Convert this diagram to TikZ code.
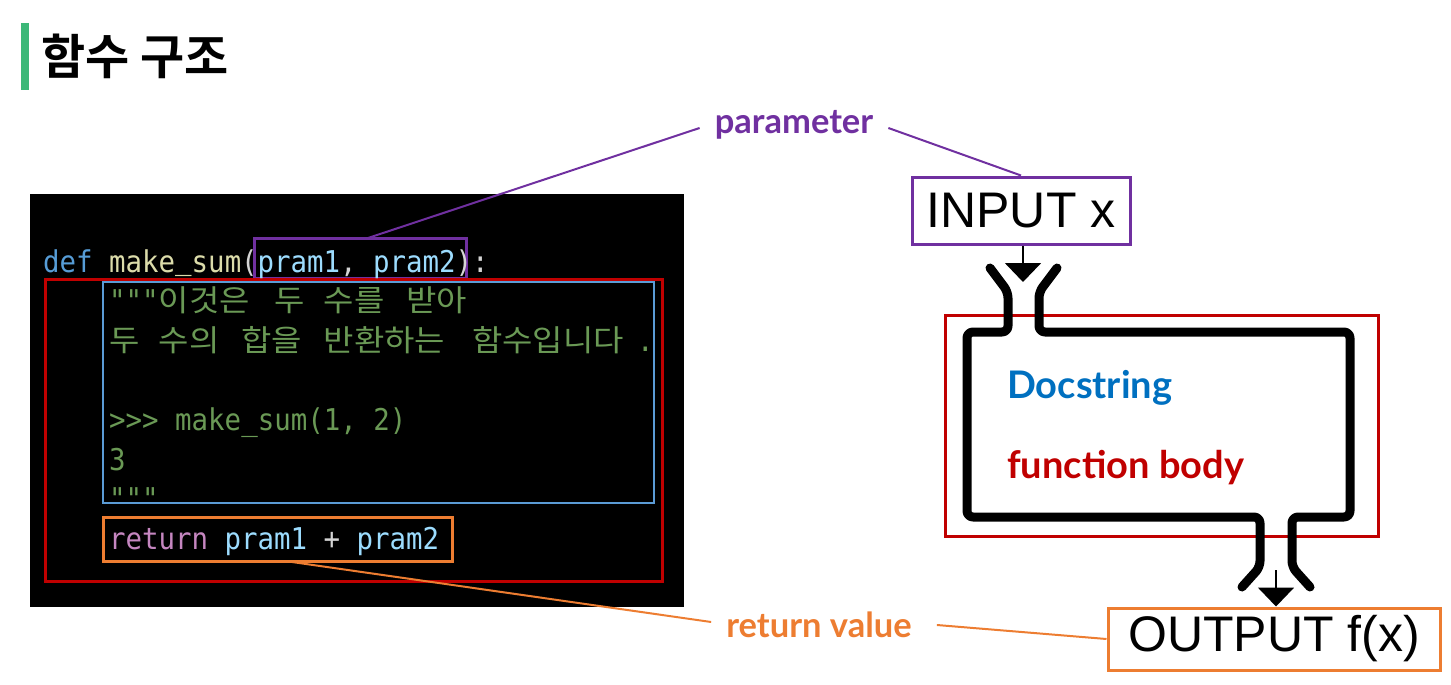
\documentclass[tikz,border=0pt]{standalone}
\usepackage{fontspec}
\setmainfont{Liberation Sans}
\newfontfamily\kr{Noto Sans CJK KR}[BoldFont={* Bold}]
\newfontfamily\lato{Lato}[BoldFont={* Bold}]
\newfontfamily\mono{DejaVu Sans Mono}[FakeStretch=0.914]
\newfontfamily\krmono{Noto Sans CJK KR}[FakeStretch=1.1]
\usetikzlibrary{arrows.meta}
\definecolor{cgreen}{HTML}{3CB878}
\definecolor{cpurple}{HTML}{7030A0}
\definecolor{corange}{HTML}{ED7D31}
\definecolor{cred}{HTML}{C00000}
\definecolor{cblue}{HTML}{5B9BD5}
\definecolor{cdoc}{HTML}{0070C0}
\definecolor{kdef}{HTML}{569CD6}
\definecolor{kfn}{HTML}{DCDCAA}
\definecolor{kvar}{HTML}{9CDCFE}
\definecolor{kstr}{HTML}{6A9955}
\definecolor{kret}{HTML}{C586C0}
\definecolor{kpun}{HTML}{D4D4D4}
\tikzset{
  code/.style={anchor=base west, inner sep=0pt, font=\mono\fontsize{30}{30}\selectfont},
  kcode/.style={anchor=base west, inner sep=0pt, text=kstr, font=\krmono\fontsize{30}{30}\selectfont},
  lab/.style={inner sep=0pt, font=\lato\bfseries\fontsize{34.5}{34.5}\selectfont},
  biglab/.style={inner sep=0pt, anchor=west, font=\lato\bfseries\fontsize{38}{38}\selectfont},
  bigbox/.style={draw, line width=3pt, inner sep=0pt, font=\fontsize{50}{50}\selectfont},
  conn/.style={line width=2pt},
  funnel/.style={line width=9pt, line cap=round, line join=round, rounded corners=6pt},
  flow/.style={line width=2pt, -{Triangle[width=36pt,length=19pt]}}
}
\begin{document}
\begin{tikzpicture}[x=1pt,y=-1pt]
\useasboundingbox (0,0) rectangle (1451,685);
% title
\fill[cgreen] (21,23) rectangle (29,90);
\node[anchor=west, inner sep=0pt, font=\kr\bfseries\fontsize{48}{48}\selectfont] (title) at (41,56) {함수 구조};
% code panel
\fill[black] (30,194) rectangle (684,607);
% highlight boxes in code
\draw[cpurple, line width=3pt] (254,238) rectangle (466,278);
\coordinate (pbox) at (368,238);
\draw[cred, line width=3pt] (45,279) rectangle (662,581);
\draw[cblue, line width=2.5pt] (103,282) rectangle (654,503);
\draw[corange, line width=3pt] (103,517) rectangle (452,561);
\coordinate (obox) at (285,561);
% line 0
\node[code, text=kdef] (l0a) at (43,272) {def};
\node[code, text=kfn] (l0b) at ({43+4*16.5},272) {make\raisebox{3pt}{\_}sum};
\node[code, text=kpun] (l0c) at ({43+12*16.5},272) {(};
\node[code, text=kvar] (l0d) at ({43+13*16.5},272) {pram1};
\node[code, text=kpun] (l0e) at ({43+18*16.5},272) {,};
\node[code, text=kvar] (l0f) at ({43+20*16.5},272) {pram2};
\node[code, text=kpun] (l0g) at ({43+25*16.5},272) {)};
\node[code, text=kpun] (l0h) at ({43+26*16.5},272) {:};
% docstring
\node[code, text=kstr] (l1a) at (109,311.6) {"""};
\node[kcode] (l1b) at ({109+3*16.5},311.6) {이것은};
\node[kcode] (l1c) at ({109+10*16.5},311.6) {두};
\node[kcode] (l1d) at ({109+13*16.5},311.6) {수를};
\node[kcode] (l1e) at ({109+18*16.5},311.6) {받아};
\node[kcode] (l2a) at (109,351.2) {두};
\node[kcode] (l2b) at ({109+3*16.5},351.2) {수의};
\node[kcode] (l2c) at ({109+8*16.5},351.2) {합을};
\node[kcode] (l2d) at ({109+13*16.5},351.2) {반환하는};
\node[kcode] (l2e) at ({109+22*16.5},351.2) {함수입니다};
\node[code, text=kstr] (l2f) at ({109+32*16.5},351.2) {.};
\node[code, text=kstr] (l4) at (109,430.4) {>>> make\_sum(1, 2)};
\node[code, text=kstr] (l5) at (109,470) {3};
\node[code, text=kstr] (l6) at (109,509.6) {"""};
% return line
\node[code, text=kret] (l7a) at (109,549.2) {return};
\node[code, text=kvar] (l7b) at ({43+11*16.5},549.2) {pram1};
\node[code, text=kpun] (l7c) at ({43+17*16.5},549.2) {+};
\node[code, text=kvar] (l7d) at ({43+19*16.5},549.2) {pram2};
% labels
\node[lab, text=cpurple] (param) at (794,125) {parameter};
\node[lab, text=corange] (retv) at (819,625) {return value};
\node[biglab, text=cdoc] (doc) at (1007,388) {Docstring};
\node[biglab, text=cred] (body) at (1007,468) {function body};
% IO boxes
\node[bigbox, draw=cpurple, minimum width=218pt, minimum height=67pt] (in) at (1021,210.5) {INPUT x};
\node[bigbox, draw=corange, minimum width=332pt, minimum height=62pt] (out) at (1274,639) {OUTPUT f(x)};
% connectors
\draw[cpurple, conn] (pbox) -- ([xshift=-15pt,yshift=-3pt]param.west);
\draw[cpurple, conn] ([xshift=15pt,yshift=-3pt]param.east) -- (in.north);
\draw[corange, conn] (obox) -- ([xshift=-15pt,yshift=3pt]retv.west);
\draw[corange, conn] ([xshift=25pt]retv.east) -- (out.west);
% function body frame
\draw[cred, line width=3pt] (945,315) rectangle (1378,536);
\draw[funnel] (990,268) -- (1008,292) -- (1008,332) -- (967,332) -- (967,517) -- (1260,517) -- (1260,567) -- (1242,587);
\draw[funnel] (1057,268) -- (1039,292) -- (1039,332) -- (1350,332) -- (1350,517) -- (1292,517) -- (1292,567) -- (1310,587);
\coordinate (inlet) at (1023,282);
\coordinate (outlet) at (1276,570);
\draw[flow] (in.south) ++(2,0) -- (inlet);
\draw[flow] (outlet) -- ([xshift=2pt]out.north);
\end{tikzpicture}
\end{document}
